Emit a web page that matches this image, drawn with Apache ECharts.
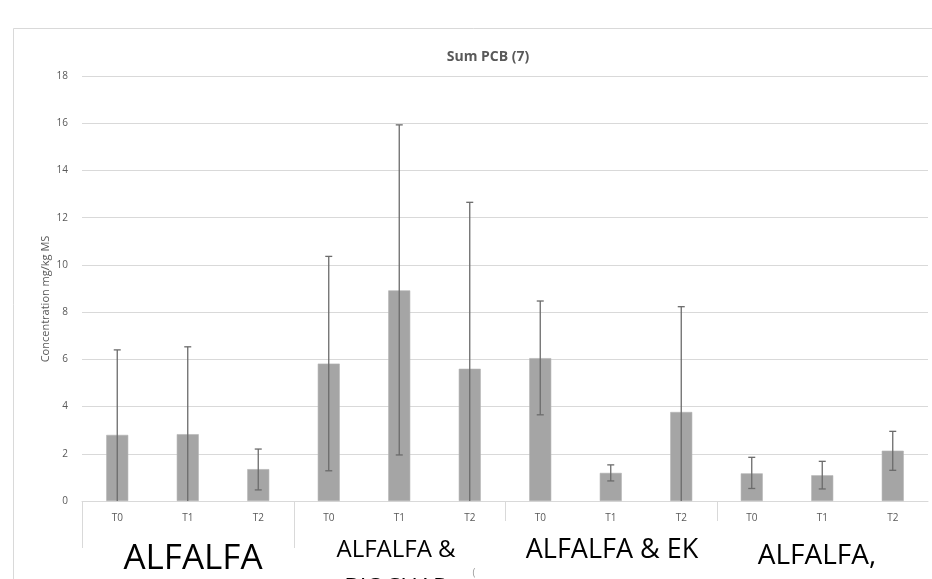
<!DOCTYPE html>
<html>
<head>
<meta charset="utf-8">
<script src="https://cdn.jsdelivr.net/npm/echarts@6/dist/echarts.min.js"></script>
<style>
html,body{margin:0;padding:0;background:#fff;}
#c{width:932px;height:579px;}
</style>
</head>
<body>
<div id="c"></div>
<script>
const groups = ['ALFALFA', 'ALFALFA &\nBIOCHAR', 'ALFALFA & EK', 'ALFALFA,'];
const times = ['T0', 'T1', 'T2'];
const means = [2.8, 2.83, 1.35, 5.82, 8.92, 5.6, 6.05, 1.19, 3.77, 1.17, 1.09, 2.13];
const errLow = [0, 0, 0.47, 1.28, 1.95, 0, 3.65, 0.85, 0, 0.53, 0.51, 1.3];
const errHigh = [6.4, 6.53, 2.2, 10.36, 15.93, 12.65, 8.47, 1.53, 8.23, 1.85, 1.68, 2.95];
const yTicks = [0, 2, 4, 6, 8, 10, 12, 14, 16, 18];

const FONT = '"Open Sans", sans-serif';
const categories = [];
groups.forEach(() => times.forEach(t => categories.push(t)));

const chart = echarts.init(document.getElementById('c'), null, {renderer: 'canvas'});

const option = {
  animation: false,
  backgroundColor: '#fff',
  title: {
    text: 'Sum PCB (7)',
    left: 483, top: 45, textAlign: 'center',
    textStyle: {fontFamily: FONT, fontSize: 14, fontWeight: 'bold', color: '#595959'}
  },
  grid: {left: 82, right: 4, top: 76, bottom: 78},
  xAxis: {
    type: 'category',
    data: categories,
    axisLine: {lineStyle: {color: '#d9d9d9', width: 1}},
    axisTick: {show: false},
    axisLabel: {fontFamily: FONT, fontSize: 10, color: '#595959', margin: 12, interval: 0}
  },
  yAxis: {
    type: 'value',
    min: yTicks[0], max: yTicks[yTicks.length - 1], interval: 2,
    axisLine: {show: false},
    axisTick: {show: false},
    splitLine: {lineStyle: {color: '#d9d9d9', width: 1}},
    axisLabel: {fontFamily: FONT, fontSize: 10, color: '#595959', margin: 14}
  },
  series: [
    {
      type: 'bar',
      data: means,
      barWidth: 22,
      itemStyle: {color: '#a5a5a5', borderColor: '#b4b4b4', borderWidth: 0.6},
      z: 2
    },
    {
      type: 'custom',
      data: means.map((m, i) => [i, errLow[i], errHigh[i]]),
      z: 3,
      renderItem: function (params, api) {
        const x = api.value(0);
        const lo = api.coord([x, api.value(1)]);
        const hi = api.coord([x, api.value(2)]);
        const cap = 3.5;
        const st = {stroke: '#6b6b6b', lineWidth: 1.3};
        const children = [
          {type: 'line', shape: {x1: lo[0], y1: lo[1], x2: hi[0], y2: hi[1]}, style: st},
          {type: 'line', shape: {x1: hi[0] - cap, y1: hi[1], x2: hi[0] + cap, y2: hi[1]}, style: st}
        ];
        if (api.value(1) > 0) {
          children.push({type: 'line', shape: {x1: lo[0] - cap, y1: lo[1], x2: lo[0] + cap, y2: lo[1]}, style: st});
        }
        return {type: 'group', children: children};
      }
    }
  ]
};
chart.setOption(option);

// group separators and group labels, positioned from the axis scale
const p = i => chart.convertToPixel({xAxisIndex: 0}, i);
const slot = p(1) - p(0);
const y0 = chart.convertToPixel({yAxisIndex: 0}, 0);
const sepEnds = [548, 548, 521, 521];
const graphics = [
  {type: 'rect', shape: {x: 13.5, y: 28.5, width: 1000, height: 600}, style: {fill: 'none', stroke: '#d9d9d9', lineWidth: 1}, z: -10}
];
for (let g = 0; g < groups.length; g++) {
  const xb = Math.round(p(g * 3) - slot / 2) + 0.5;
  graphics.push({type: 'line', shape: {x1: xb, y1: y0, x2: xb, y2: sepEnds[g]}, style: {stroke: '#d9d9d9', lineWidth: 1}});
}
const labelX = [193, 396, 612, 817];
const labelY = [559, 550, 550, 556];
const labelSize = [35, 24, 27, 28];
const labelLH = [40, 38, 34, 34];
groups.forEach((g, gi) => {
  const lines = g.split('\n').length;
  graphics.push({
    type: 'text', x: labelX[gi], y: labelY[gi] - labelLH[gi] / 2,
    style: {text: g, fontFamily: FONT, fontSize: labelSize[gi], fill: '#000', align: 'center', verticalAlign: 'top', lineHeight: labelLH[gi]},
    z: 10
  });
});
graphics.push({type: 'text', x: 46, y: 299, rotation: Math.PI / 2,
  style: {text: 'Concentration mg/kg MS', fontFamily: FONT, fontSize: 11, fill: '#595959', align: 'center', verticalAlign: 'middle'}});
graphics.push({type: 'text', x: 474, y: 573,
  style: {text: '(', fontFamily: FONT, fontSize: 10, fill: '#9a9a9a', align: 'center', verticalAlign: 'middle'}});
chart.setOption({graphic: graphics});
</script>
</body>
</html>
